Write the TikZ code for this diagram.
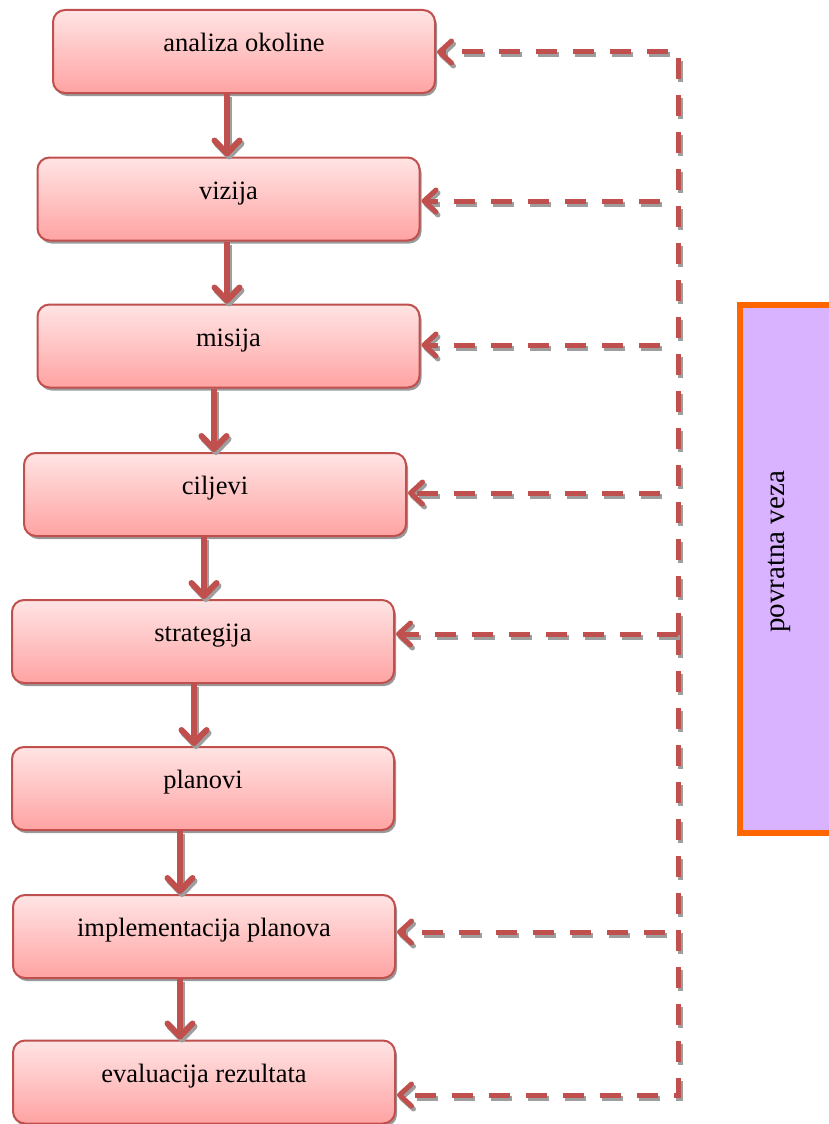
\documentclass[tikz,border=0pt]{standalone}
\usepackage{fontspec}
\setmainfont{Liberation Serif}
\usetikzlibrary{arrows.meta,shadows,calc}
\definecolor{redline}{RGB}{192,80,77}
\definecolor{pinktop}{RGB}{255,228,228}
\definecolor{pinkbot}{RGB}{255,163,163}
\definecolor{lilac}{RGB}{217,179,255}
\definecolor{orng}{RGB}{255,102,0}
\begin{document}
\begin{tikzpicture}[x=1pt,y=-1pt,
  stagebox/.style={draw=redline, line width=2pt, rounded corners=12pt,
    top color=pinktop, bottom color=pinkbot,
    minimum width=382pt, minimum height=83pt, inner sep=0pt,
    text height=18pt, text depth=18pt,
    font=\fontsize{26.5}{30}\selectfont,
    drop shadow={shadow xshift=2pt, shadow yshift=-3pt, fill=black!40, opacity=1}},
  flowtip/.style={-{Straight Barb[length=13pt,width=25pt,round]}},
  fbtip/.style={-{Straight Barb[length=12pt,width=22pt,round]}},
  flow/.style={draw=redline, line width=6pt, flowtip,
    preaction={draw=black!38, line width=6pt, flowtip,
      transform canvas={xshift=2pt,yshift=-3pt}}},
  fb/.style={draw=redline, line width=5pt, dash pattern=on 21pt off 16pt,
    fbtip, shorten >=1pt,
    preaction={draw=black!38, line width=5pt, dash pattern=on 21pt off 16pt,
      fbtip, shorten >=1pt, transform canvas={xshift=2pt,yshift=-3pt}}}
]
\useasboundingbox (0,0) rectangle (828,1124);

% feedback box
\node[draw=orng, line width=6pt, fill=lilac, minimum width=100pt, minimum height=528pt,
      inner sep=0pt] (pv) at (790,569) {};
\node[rotate=90, font=\fontsize{29}{32}\selectfont] (pvt) at (779,552) {povratna veza};

% stages
\node[stagebox] (b1) at (244,51.5) {analiza okoline};
\node[stagebox] (b2) at (228.5,199) {vizija};
\node[stagebox] (b3) at (228.5,346) {misija};
\node[stagebox] (b4) at (215,494.5) {ciljevi};
\node[stagebox] (b5) at (203,641.5) {strategija};
\node[stagebox] (b6) at (203,788.5) {planovi};
\node[stagebox] (b7) at (204,936.5) {implementacija planova};
\node[stagebox] (b8) at (204,1082) {evaluacija rezultata};

% down arrows
\coordinate (a1) at (227,0);
\coordinate (a2) at (227,0);
\coordinate (a3) at (214,0);
\coordinate (a4) at (204,0);
\coordinate (a5) at (194,0);
\coordinate (a6) at (180,0);
\coordinate (a7) at (180,0);
\draw[flow] (b1.south -| a1) -- (b2.north -| a1);
\draw[flow] (b2.south -| a2) -- (b3.north -| a2);
\draw[flow] (b3.south -| a3) -- (b4.north -| a3);
\draw[flow] (b4.south -| a4) -- (b5.north -| a4);
\draw[flow] (b5.south -| a5) -- (b6.north -| a5);
\draw[flow] (b6.south -| a6) -- (b7.north -| a6);
\draw[flow] (b7.south -| a7) -- (b8.north -| a7);

% feedback lines
\coordinate (fT) at (678,52);
\coordinate (fS) at (678,634);
\coordinate (fE) at (678,1095);
\coordinate (h2) at (660,201);
\coordinate (h3) at (660,345);
\coordinate (h4) at (660,493);
\coordinate (h7) at (665,932);
\draw[fb] (fS) -- (fT) -- (fT -| b1.east);
\draw[fb] (fS) -- (fE) -- (fE -| b8.east);
\draw[fb] (fS) -- (fS -| b5.east);
\draw[fb] (h2) -- (h2 -| b2.east);
\draw[fb] (h3) -- (h3 -| b3.east);
\draw[fb] (h4) -- (h4 -| b4.east);
\draw[fb] (h7) -- (h7 -| b7.east);
\end{tikzpicture}
\end{document}
